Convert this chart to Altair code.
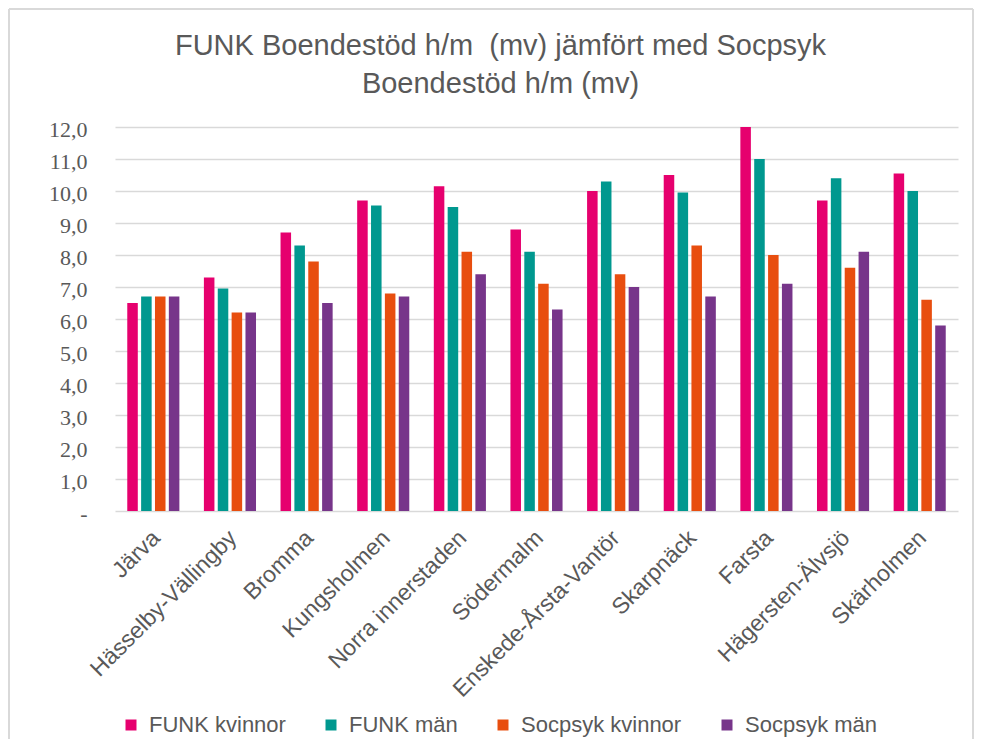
import altair as alt
import pandas as pd

categories = ["Järva", "Hässelby-Vällingby", "Bromma", "Kungsholmen", "Norra innerstaden",
              "Södermalm", "Enskede-Årsta-Vantör", "Skarpnäck", "Farsta",
              "Hägersten-Älvsjö", "Skärholmen"]
series = ["FUNK kvinnor", "FUNK män", "Socpsyk kvinnor", "Socpsyk män"]
funk_kvinnor = [6.5, 7.3, 8.7, 9.7, 10.15, 8.8, 10.0, 10.5, 12.0, 9.7, 10.55]
funk_man = [6.7, 6.95, 8.3, 9.55, 9.5, 8.1, 10.3, 9.95, 11.0, 10.4, 10.0]
socpsyk_kvinnor = [6.7, 6.2, 7.8, 6.8, 8.1, 7.1, 7.4, 8.3, 8.0, 7.6, 6.6]
socpsyk_man = [6.7, 6.2, 6.5, 6.7, 7.4, 6.3, 7.0, 6.7, 7.1, 8.1, 5.8]
colors = ["#E6006E", "#00988F", "#E84E0F", "#77358A"]
y_ticks = list(range(0, 13))
title_lines = ["FUNK Boendestöd h/m\u00a0 (mv) jämfört med Socpsyk", "Boendestöd h/m (mv)"]

rows = []
for s, vals in zip(series, [funk_kvinnor, funk_man, socpsyk_kvinnor, socpsyk_man]):
    for c, v in zip(categories, vals):
        rows.append({"kategori": c, "serie": s, "varde": v})
df = pd.DataFrame(rows)

FONT = "Liberation Sans"
GRAY = "#595959"
GRID = "#D9D9D9"

label_expr = "datum.value == 0 ? '-\u00a0\u00a0' : replace(format(datum.value, '.1f'), '.', ',')"

bars = alt.Chart(df).mark_bar().encode(
    x=alt.X("kategori:N", sort=categories,
            scale=alt.Scale(paddingInner=0.32, paddingOuter=0.16),
            axis=alt.Axis(title=None, labelAngle=-45, labelAlign="right", labelBaseline="middle",
                          labelPadding=23, labelOffset=3, labelFontSize=23, labelFont=FONT,
                          labelColor=GRAY, domain=False, ticks=False, tickSize=0, grid=False,
                          labelLimit=400)),
    xOffset=alt.XOffset("serie:N", sort=series, scale=alt.Scale(paddingInner=0.24)),
    y=alt.Y("varde:Q", scale=alt.Scale(domain=[0, 12], nice=False),
            axis=alt.Axis(title=None, values=y_ticks, labelExpr=label_expr,
                          labelFont="Liberation Serif", labelFontSize=22, labelColor=GRAY,
                          labelPadding=28, labelOffset=2, domain=False, ticks=False, tickSize=0,
                          grid=True, gridColor=GRID, gridWidth=1.6)),
    color=alt.Color("serie:N", sort=series,
                    scale=alt.Scale(domain=series, range=colors),
                    legend=alt.Legend(title=None, orient="none", legendX=5, legendY=587,
                                      direction="horizontal", columns=4, symbolType="square",
                                      symbolSize=121, symbolStrokeWidth=0, labelFont=FONT,
                                      labelFontSize=22, labelColor=GRAY, labelOffset=7,
                                      columnPadding=34, labelLimit=400)),
)

frame_df = pd.DataFrame({"r": [0]})
frame_mark = dict(stroke=GRID, strokeWidth=2)
left_edge = alt.Chart(frame_df).mark_rule(**frame_mark).encode(
    x=alt.value(-106), y=alt.value(-118), y2=alt.value(612))
top_edge = alt.Chart(frame_df).mark_rule(**frame_mark).encode(
    x=alt.value(-106), x2=alt.value(858), y=alt.value(-118))
right_edge = alt.Chart(frame_df).mark_rule(**frame_mark).encode(
    x=alt.value(858), y=alt.value(-118), y2=alt.value(612))

chart = alt.layer(left_edge, top_edge, right_edge, bars).properties(
    width=843, height=384,
    padding={"left": 0, "top": 0, "right": 0, "bottom": 0},
    background="white",
    title=alt.TitleParams(text=title_lines, font=FONT, fontSize=29, fontWeight="normal",
                          color=GRAY, lineHeight=38, anchor="middle", frame="group",
                          dx=-36, offset=-91),
).configure_view(strokeWidth=0)

chart.save("out.html", embed_options={"renderer": "svg", "actions": False})
